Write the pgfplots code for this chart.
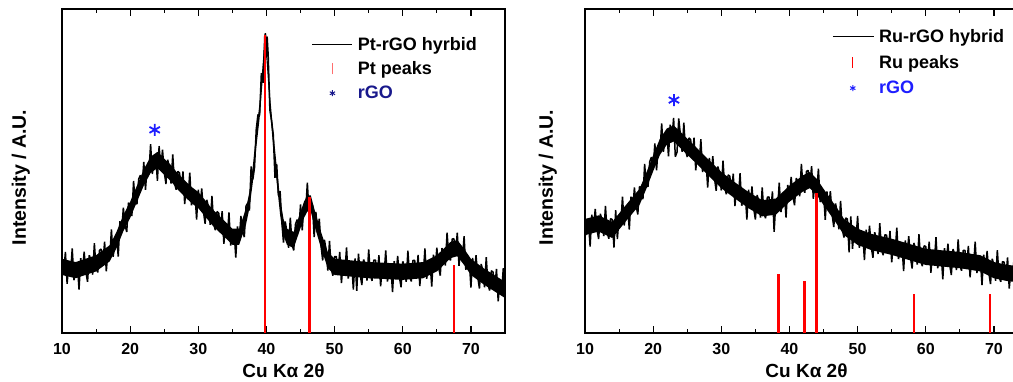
\documentclass[border=0pt]{standalone}
\usepackage{pgfplots}
\pgfplotsset{compat=1.18}
\usepackage{fontspec}
\setmainfont{Liberation Sans}
\definecolor{navy}{RGB}{25,25,140}
\definecolor{bblue}{RGB}{30,30,255}
\definecolor{pkred}{RGB}{255,110,110}
\definecolor{xred}{RGB}{255,0,0}
\pgfplotsset{
 xrd/.style={
  scale only axis, width=443pt, height=324pt,
  xmin=10, xmax=75, ymin=0, ymax=100,
  xtick={10,20,...,70}, minor xtick={15,25,...,75}, ytick=\empty,
  tick align=inside, major tick length=7pt, minor tick length=4pt,
  major tick style={line width=1.3pt, black}, minor tick style={line width=1.1pt, black},
  axis line style={line width=1.5pt},
  /pgf/number format/assume math mode=true,
  xticklabel style={font=\fontsize{16}{18}\selectfont\bfseries, yshift=-7pt},
  xlabel={Cu Kα 2θ},
  xlabel style={font=\fontsize{19}{22}\selectfont\bfseries, at={(axis description cs:0.5,-0.117)}, anchor=center},
  ylabel={Intensity / A.U.},
  legend cell align=left,
  legend style={draw=none, fill=none, font=\fontsize{18}{20}\selectfont\bfseries, inner sep=0pt, anchor=north west, /tikz/every odd column/.append style={column sep=3pt}},
 }
}
\begin{document}
\begin{tikzpicture}
\begin{axis}[xrd, at={(62pt,48pt)}, anchor=south west,
  ylabel style={font=\fontsize{19.5}{22}\selectfont\bfseries, at={(axis description cs:-0.093,0.48)}, anchor=center},
  legend style={at={(0.564,0.92)}, row sep=6pt}]
% dense core of the noisy trace (upper edge, then lower edge)
\addplot[fill=black, draw=none, forget plot] coordinates {
(10,22.9)(12,21.9)(15,24.0)(17,27.1)(18,31.2)(19,36.4)(20,40.5)(21,45.5)(22,50.5)(23,54.4)(24,55.9)(25,53.8)(26,51.8)(27,49.2)(28,47.1)(29,45.1)(30,43.5)(31,41.0)(32,38.4)(33,36.3)(34,34.3)(35,32.2)(36,32.2)(37,38.5)(37.5,43.5)(38,51.5)(38.5,62.1)(39,71.3)(39.5,84.5)(39.8,92.5)(40,89.5)(40.3,80.5)(40.6,71.5)(41,62.1)(41.5,51.5)(42,41.5)(42.5,35.2)(43,32.2)(44,31.2)(45,37.4)(45.5,40.5)(46,42.5)(46.5,42.5)(47,38.5)(48,31.2)(49,25.0)(50,22.9)(55,21.9)(60,21.4)(63,21.9)(65,24.0)(66,26.0)(67,28.1)(68,28.7)(69,26.0)(70,22.9)(72,19.8)(75,15.8)
(75,10.8)(72,14.8)(70,17.9)(69,21.0)(68,23.7)(67,23.1)(66,21.0)(65,19.0)(63,16.9)(60,16.4)(55,16.9)(50,17.9)(49,20.0)(48,26.2)(47,33.5)(46.5,37.5)(46,37.5)(45.5,35.5)(45,32.4)(44,26.2)(43,27.2)(42.5,30.2)(42,36.5)(41.5,46.5)(41,57.1)(40.6,66.5)(40.3,75.5)(40,84.5)(39.8,87.5)(39.5,79.5)(39,66.3)(38.5,57.1)(38,46.5)(37.5,38.5)(37,33.5)(36,27.2)(35,27.2)(34,29.3)(33,31.3)(32,33.4)(31,36.0)(30,38.5)(29,40.1)(28,42.1)(27,44.2)(26,46.8)(25,48.8)(24,50.9)(23,49.4)(22,45.5)(21,40.5)(20,35.5)(19,31.4)(18,26.2)(17,22.1)(15,19.0)(12,16.9)(10,17.9)
} -- cycle;
\addplot[black, line width=1.5pt, line join=bevel, legend image code/.code={\draw[black, line width=0.8pt] (0pt,0pt) -- (40pt,0pt);}] coordinates {
(10,23.6)(10.25,18.7)(10.5,25.0)(10.75,15.2)(11,21.5)(11.25,18.2)(11.5,26.1)(11.75,16.3)(12,19.4)
(12.25,21.2)(12.5,13.4)(12.75,23.1)(13,18.5)(13.25,25.1)(13.5,18.9)(13.75,15.8)(14,24.0)(14.25,22.6)(14.5,18.0)(14.75,27.7)(15,19.9)
(15.25,18.7)(15.5,25.5)(15.75,25.9)(16,21.5)(16.25,28.2)(16.5,19.0)(16.75,25.8)(17,23.0)
(17.25,32.0)(17.5,23.5)(17.75,27.7)(18,30.3)(18.25,23.6)(18.5,34.5)(18.75,31.0)(19,38.7)
(19.25,33.3)(19.5,31.2)(19.75,40.2)(20,39.6)(20.25,36.1)(20.5,46.9)(20.75,40.2)(21,39.8)
(21.25,47.5)(21.5,48.7)(21.75,45.2)(22,52.8)(22.25,44.2)(22.5,51.6)(22.75,49.3)(23,58.3)
(23.25,49.1)(23.5,52.7)(23.75,54.6)(24,47.0)(24.25,57.7)(24.5,50.8)(24.75,56.6)(25,49.7)
(25.25,46.0)(25.5,53.5)(25.75,51.4)(26,46.1)(26.25,55.1)(26.5,46.4)(26.75,44.2)(27,49.9)
(27.25,49.4)(27.5,44.1)(27.75,49.9)(28,39.8)(28.25,45.7)(28.5,42.0)(28.75,49.5)(29,39.4)
(29.25,42.2)(29.5,43.4)(29.75,35.0)(30,44.2)(30.25,38.8)(30.5,44.6)(30.75,37.5)(31,33.7)
(31.25,41.1)(31.5,38.8)(31.75,33.4)(32,42.3)(32.25,33.8)(32.5,31.7)(32.75,37.5)(33,37.0)
(33.25,31.7)(33.5,37.6)(33.75,27.5)(34,33.4)(34.25,29.7)(34.5,37.2)(34.75,27.0)(35,29.7)
(35.25,31.3)(35.5,23.3)(35.75,32.9)(36,28.1)(36.25,36.1)(36.5,31.3)(36.75,29.6)(37,39.2)
(37.25,40.1)(37.5,37.8)(37.75,51.4)(38,47.4)(38.25,51.1)(38.5,62.8)(38.75,67.4)(39,67.2)
(39.25,80.2)(39.5,77.2)(39.75,91.6)(39.85,92.5)(40,85.4)(40.1,91.5)
(40.25,85.9)(40.5,68.8)(40.75,65.5)(41,61.2)(41.25,47.9)(41.5,52.2)(41.75,42.4)(42,43.8)
(42.25,34.3)(42.5,27.9)(42.75,34.4)(43,31.3)(43.25,26.3)(43.5,35.6)(43.75,27.4)(44,25.5)
(44.25,33.5)(44.5,35.0)(44.75,31.8)(45,39.7)(45.25,31.7)(45.5,39.6)(45.75,37.4)(46,46.4)
(46.25,36.8)(46.5,40.0)(46.75,39.6)(47,29.6)(47.25,37.4)(47.5,30.8)(47.75,35.3)(48,27.1)
(48.25,22.4)(48.5,28.8)(48.75,25.7)(49,19.3)(49.25,28.4)(49.5,19.8)(49.75,17.7)(50,23.6)
(50.25,23.6)(50.5,18.7)(50.75,25.0)(51,15.4)(51.25,21.8)(51.5,18.5)(51.75,26.4)(52,16.8)
(52.25,20.0)(52.5,21.5)(52.75,13.4)(53,23.0)(53.25,13.0)(53.5,24.5)(53.75,18.0)(54,14.8)
(54.25,22.7)(54.5,21.1)(54.75,16.2)(55,25.8)
(55.25,17.8)(55.5,16.1)(55.75,22.5)(56,22.5)(56.25,17.7)(56.5,24.0)(56.75,14.4)(57,20.8)
(57.25,17.6)(57.5,25.5)(57.75,15.9)(58,19.1)(58.25,20.7)(58.5,12.6)(58.75,22.2)(59,17.4)
(59.25,23.8)(59.5,17.3)(59.75,14.1)(60,22.1)
(60.25,20.5)(60.5,15.8)(60.75,25.4)(61,17.5)(61.25,15.9)(61.5,22.4)(61.75,22.4)(62,17.6)
(62.25,24.1)(62.5,14.5)(62.75,21.0)(63,17.8)
(63.25,26.1)(63.5,16.7)(63.75,20.2)(64,22.1)(64.25,14.3)(64.5,24.2)(64.75,19.6)(65,26.3)
(65.25,20.4)(65.5,17.7)(65.75,26.2)(66,25.1)(66.25,20.8)(66.5,31.0)(66.75,23.5)(67,22.4)
(67.25,29.0)(67.5,29.1)(67.75,24.5)(68,31.0)(68.25,20.7)(68.5,26.5)(68.75,22.6)(69,29.9)
(69.25,19.5)(69.5,22.0)(69.75,22.8)(70,14.0)
(70.25,23.2)(70.5,18.0)(70.75,24.0)(71,17.3)(71.25,13.7)(71.5,21.3)(71.75,19.3)(72,14.1)
(72.25,23.4)(72.5,15.0)(72.75,13.1)(73,19.2)(73.25,18.8)(73.5,13.7)(73.75,19.8)(74,9.8)
(74.25,15.9)(74.5,12.4)(74.75,20.0)(75,10.1)
};
\addlegendentry{Pt-rGO hyrbid}
\addplot[ycomb, xred, line width=2.5pt, legend image code/.code={\draw[pkred, line width=1.5pt] (20pt,-5.5pt) -- (20pt,5.5pt);}] coordinates {(39.8,92)(46.3,42)(67.5,21)};
\addlegendentry{Pt peaks}
\addplot[only marks, mark=asterisk, mark size=6pt, bblue, line width=1.8pt, legend image code/.code={\draw[navy, line width=1pt] plot[mark=asterisk, mark size=3pt] coordinates {(20pt,0pt)};}] coordinates {(23.6,62.7)};
\addlegendentry{\textcolor{navy}{rGO}}
\end{axis}

\begin{axis}[xrd, at={(585pt,48pt)}, anchor=south west,
  ylabel style={font=\fontsize{19.5}{22}\selectfont\bfseries, at={(axis description cs:-0.084,0.48)}, anchor=center},
  legend style={at={(0.558,0.945)}, row sep=7.5pt}]
\addplot[fill=black, draw=none, forget plot] coordinates {
(10,35.2)(12,36.3)(14,34.3)(16,39.5)(18,44.5)(19,49.5)(20,54.9)(21,60.0)(22,63.1)(23,64.1)(24,62.1)(25,60.0)(26,58.0)(27,55.9)(28,53.8)(30,49.7)(32,46.5)(34,43.5)(36,41.0)(38,41.5)(40,45.5)(42,48.7)(43,49.7)(44,47.6)(45,44.5)(46,41.5)(47,38.5)(48,35.2)(50,32.2)(52,30.6)(55,29.1)(60,26.0)(65,25.0)(68,24.0)(70,21.9)(72,21.0)(73.5,20.7)
(73.5,15.7)(72,16.0)(70,16.9)(68,19.0)(65,20.0)(60,21.0)(55,24.1)(52,25.6)(50,27.2)(48,30.2)(47,33.5)(46,36.5)(45,39.5)(44,42.6)(43,44.7)(42,43.7)(40,40.5)(38,36.5)(36,36.0)(34,38.5)(32,41.5)(30,44.7)(28,48.8)(27,50.9)(26,53.0)(25,55.0)(24,57.1)(23,59.1)(22,58.1)(21,55.0)(20,49.9)(19,44.5)(18,39.5)(16,34.5)(14,29.3)(12,31.3)(10,30.2)
} -- cycle;
\addplot[black, line width=1.5pt, line join=bevel, legend image code/.code={\draw[black, line width=0.8pt] (0pt,0pt) -- (41pt,0pt);}] coordinates {
(10,29.5)(10.25,32.8)(10.5,34.6)(10.75,26.7)(11,36.5)(11.25,31.8)(11.5,38.3)(11.75,32.1)(12,29.0)
(12.25,36.8)(12.5,34.9)(12.75,29.9)(13,39.2)(13.25,31.0)(13.5,29.1)(13.75,35.3)(14,35.0)
(14.25,26.4)(14.5,37.9)(14.75,29.0)(15,36.0)(15.25,33.5)(15.5,42.1)(15.75,33.2)(16,37.0)
(16.25,39.2)(16.5,31.9)(16.75,42.1)(17,37.9)(17.25,44.9)(17.5,39.2)(17.75,36.6)(18,45.2)
(18.25,44.9)(18.5,41.3)(18.75,52.2)(19,45.4)(19.25,45.2)(19.5,52.9)(19.75,54.3)(20,50.8)
(20.25,58.5)(20.5,50.2)(20.75,57.8)(21,55.9)(21.25,64.7)(21.5,55.9)(21.75,59.8)(22,62.2)
(22.25,54.5)(22.5,64.3)(22.75,59.8)(23,66.4)(23.25,54.4)(23.5,55.8)(23.75,66.2)(24,61.2)
(24.25,55.9)(24.5,64.9)(24.75,56.4)(25,54.3)(25.25,60.2)(25.5,59.7)(25.75,54.4)(26,60.3)
(26.25,50.2)(26.5,56.1)(26.75,52.3)(27,59.8)(27.25,49.7)(27.5,52.4)(27.75,53.4)(28,44.9)
(28.25,54.0)(28.5,48.7)(28.75,54.6)(29,47.7)(29.25,43.9)(29.5,51.4)(29.75,49.3)(30,44.0)
(30.25,53.2)(30.5,44.8)(30.75,42.8)(31,48.8)(31.25,48.4)(31.5,43.2)(31.75,49.2)(32,39.2)
(32.25,45.2)(32.5,41.7)(32.75,49.3)(33,39.3)(33.25,42.1)(33.5,43.4)(33.75,35.0)(34,44.2)
(34.25,39.1)(34.5,45.2)(34.75,38.5)(35,35.0)(35.25,42.6)(35.5,40.7)(35.75,35.6)(36,44.9)
(36.25,37.0)(36.5,35.4)(36.75,41.9)(37,42.0)(37.25,37.2)(37.5,43.7)(37.75,31.2)(38,40.6)
(38.25,37.9)(38.5,46.4)(38.75,37.3)(39,41.0)(39.25,43.1)(39.5,35.6)(39.75,45.7)(40,41.4)
(40.25,48.2)(40.5,42.2)(40.75,39.4)(41,47.8)(41.25,46.6)(41.5,42.2)(41.75,52.2)(42,44.6)
(42.25,43.3)(42.5,49.9)(42.75,50.2)(43,45.6)(43.25,51.5)(43.5,41.4)(43.75,47.2)(44,43.5)
(44.25,50.7)(44.5,40.4)(44.75,42.8)(45,43.6)(45.25,34.9)(45.5,43.7)(45.75,38.2)(46,43.8)
(46.25,36.7)(46.5,32.7)(46.75,40.0)(47,37.6)(47.25,32.0)(47.5,40.8)(47.75,31.9)(48,29.5)
(48.25,35.5)(48.5,35.2)(48.75,24.9)(49,36.0)(49.25,26.0)(49.5,32.1)(49.75,28.5)(50,36.1)
(50.25,26.3)(50.5,29.3)(50.75,30.7)(51,22.5)(51.25,31.9)(51.5,26.9)(51.75,33.1)(52,26.5)
(52.25,23.2)(52.5,31.1)(52.75,29.3)(53,24.4)(53.25,33.9)(53.5,25.8)(53.75,24.0)(54,30.3)
(54.25,30.2)(54.5,25.3)(54.75,31.5)(55,21.8)
(55.25,28.0)(55.5,24.7)(55.75,32.5)(56,22.8)(56.25,25.8)(56.5,27.3)(56.75,19.1)(57,28.6)
(57.25,23.6)(57.5,29.9)(57.75,23.3)(58,19.9)(58.25,27.8)(58.5,26.0)(58.75,21.1)(59,30.5)
(59.25,22.4)(59.5,20.6)(59.75,26.9)(60,26.7)
(60.25,21.9)(60.5,28.2)(60.75,18.6)(61,24.9)(61.25,21.6)(61.5,29.6)(61.75,20.0)(62,23.1)
(62.25,24.6)(62.5,16.6)(62.75,26.2)(63,21.3)(63.25,27.6)(63.5,21.2)(63.75,17.9)(64,25.9)
(64.25,24.2)(64.5,19.4)(64.75,28.9)(65,20.9)
(65.25,19.2)(65.5,25.5)(65.75,25.5)(66,20.6)(66.25,26.9)(66.5,17.2)(66.75,23.5)(67,20.2)
(67.25,28.2)(67.5,18.5)(67.75,21.6)(68,23.1)
(68.25,14.8)(68.5,24.2)(68.75,19.1)(69,25.3)(69.25,18.6)(69.5,15.1)(69.75,22.9)(70,21.0)
(70.25,16.1)(70.5,25.6)(70.75,17.5)(71,15.8)(71.25,22.0)(71.5,21.9)(71.75,17.0)(72,23.3)
(72.25,13.7)(72.5,20.0)(72.75,16.8)(73,24.7)(73.25,15.1)(73.5,18.2)
};
\addlegendentry{Ru-rGO hybrid}
\addplot[ycomb, xred, line width=2.5pt, legend image code/.code={\draw[xred, line width=1pt] (20pt,-5.5pt) -- (20pt,5.5pt);}] coordinates {(38.4,18.2)(42.2,16)(44.0,43.3)(58.3,12)(69.4,12)};
\addlegendentry{Ru peaks}
\addplot[only marks, mark=asterisk, mark size=6pt, bblue, line width=1.8pt, legend image code/.code={\draw[bblue, line width=1pt] plot[mark=asterisk, mark size=3pt] coordinates {(20pt,0pt)};}] coordinates {(23.05,71.9)};
\addlegendentry{\textcolor{bblue}{rGO}}
\end{axis}
\pgfresetboundingbox
\path[use as bounding box] (0,0) rectangle (1013pt,381pt);
\end{tikzpicture}
\end{document}
